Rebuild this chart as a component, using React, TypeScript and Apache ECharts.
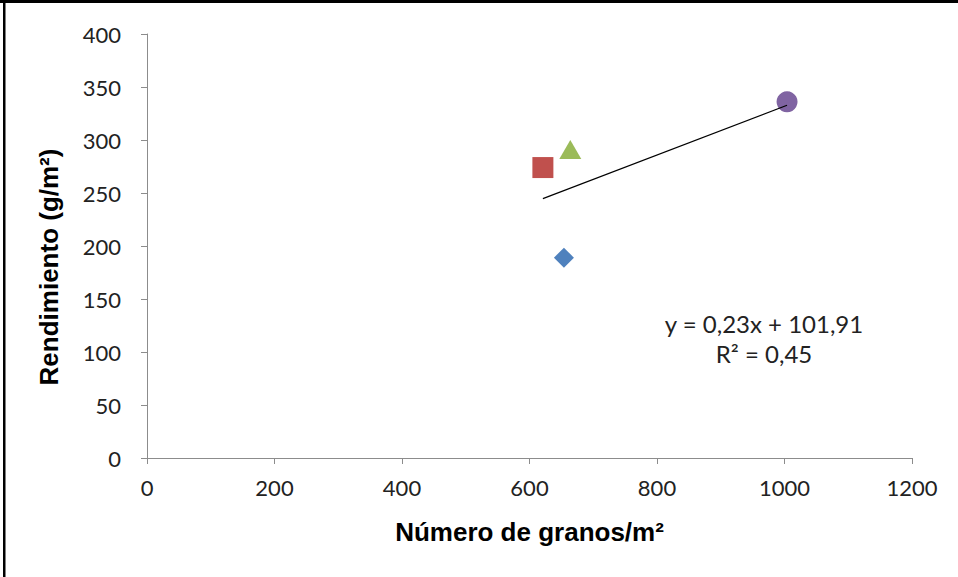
import React, { useEffect, useRef } from "react";
import * as echarts from "echarts";

const granos = [654, 621, 664, 1004];
const rendimiento = [189, 274, 291, 336];
const symbols = ["diamond", "rect", "triangle", "circle"];
const colors = ["#4F81BD", "#C0504D", "#9BBB59", "#8064A2"];
const trendX = [621, 1004];
const trendY = [244.7, 332.8];
const equationLines = ["y = 0,23x + 101,91", "R² = 0,45"];
const xTitle = "Número de granos/m²";
const yTitle = "Rendimiento (g/m²)";

export default function App() {
  const ref = useRef<HTMLDivElement>(null);
  useEffect(() => {
    const chart = echarts.init(ref.current!, null, { renderer: "svg" });
    const font = "Lato, 'Open Sans', sans-serif";
    const boldFont = "'Liberation Sans', Arial, sans-serif";
    const pointSeries = granos.map((x, i) => ({
      type: "scatter",
      data: [[x, rendimiento[i]]],
      symbol: symbols[i],
      symbolSize: symbols[i] === "diamond" ? 20 : symbols[i] === "triangle" ? [22, 19] : 21,
      itemStyle: { color: colors[i], opacity: 1 },
      z: 3,
    }));
    chart.setOption({
      animation: false,
      backgroundColor: "#fff",
      grid: { left: 147, right: 46, top: 34, bottom: 119 },
      xAxis: {
        type: "value",
        min: 0,
        max: 1200,
        interval: 200,
        splitLine: { show: false },
        axisLine: { show: true, lineStyle: { color: "#8C8C8C", width: 1 } },
        axisTick: { show: true, length: 6, lineStyle: { color: "#8C8C8C" } },
        axisLabel: { color: "#222", fontSize: 22, fontFamily: font, margin: 18, formatter: (v: number) => String(v) },
        name: xTitle,
        nameLocation: "middle",
        nameGap: 61,
        nameTextStyle: { color: "#000", fontSize: 26, fontWeight: "bold", fontFamily: boldFont },
      },
      yAxis: {
        type: "value",
        min: 0,
        max: 400,
        interval: 50,
        splitLine: { show: false },
        axisLine: { show: true, lineStyle: { color: "#8C8C8C", width: 1 } },
        axisTick: { show: true, length: 6, lineStyle: { color: "#8C8C8C" } },
        axisLabel: { color: "#222", fontSize: 22, fontFamily: font, margin: 26, formatter: (v: number) => String(v) },
      },
      series: [
        {
          type: "line",
          data: trendX.map((x, i) => [x, trendY[i]]),
          symbol: "none",
          lineStyle: { color: "#000", width: 1.2 },
          z: 4,
        },
        ...pointSeries,
      ],
      graphic: [
        { type: "rect", shape: { x: 0, y: 0, width: 958, height: 3 }, style: { fill: "#000" } },
        { type: "rect", shape: { x: 3, y: 0, width: 2.5, height: 577 }, style: { fill: "#000" } },
        {
          type: "text",
          x: 49,
          y: 267,
          rotation: Math.PI / 2,
          style: { text: yTitle, font: `bold 26px ${boldFont}`, fill: "#000", align: "center", verticalAlign: "middle" },
        },
        {
          type: "text",
          x: 764,
          y: 323,
          style: { text: equationLines[0], font: `24px ${font}`, fill: "#222", align: "center", verticalAlign: "middle" },
        },
        {
          type: "text",
          x: 764,
          y: 353,
          style: { text: equationLines[1], font: `24px ${font}`, fill: "#222", align: "center", verticalAlign: "middle" },
        },
      ],
    });
    return () => chart.dispose();
  }, []);
  return <div ref={ref} style={{ position: "fixed", left: 0, top: 0, width: 958, height: 577 }} />;
}
